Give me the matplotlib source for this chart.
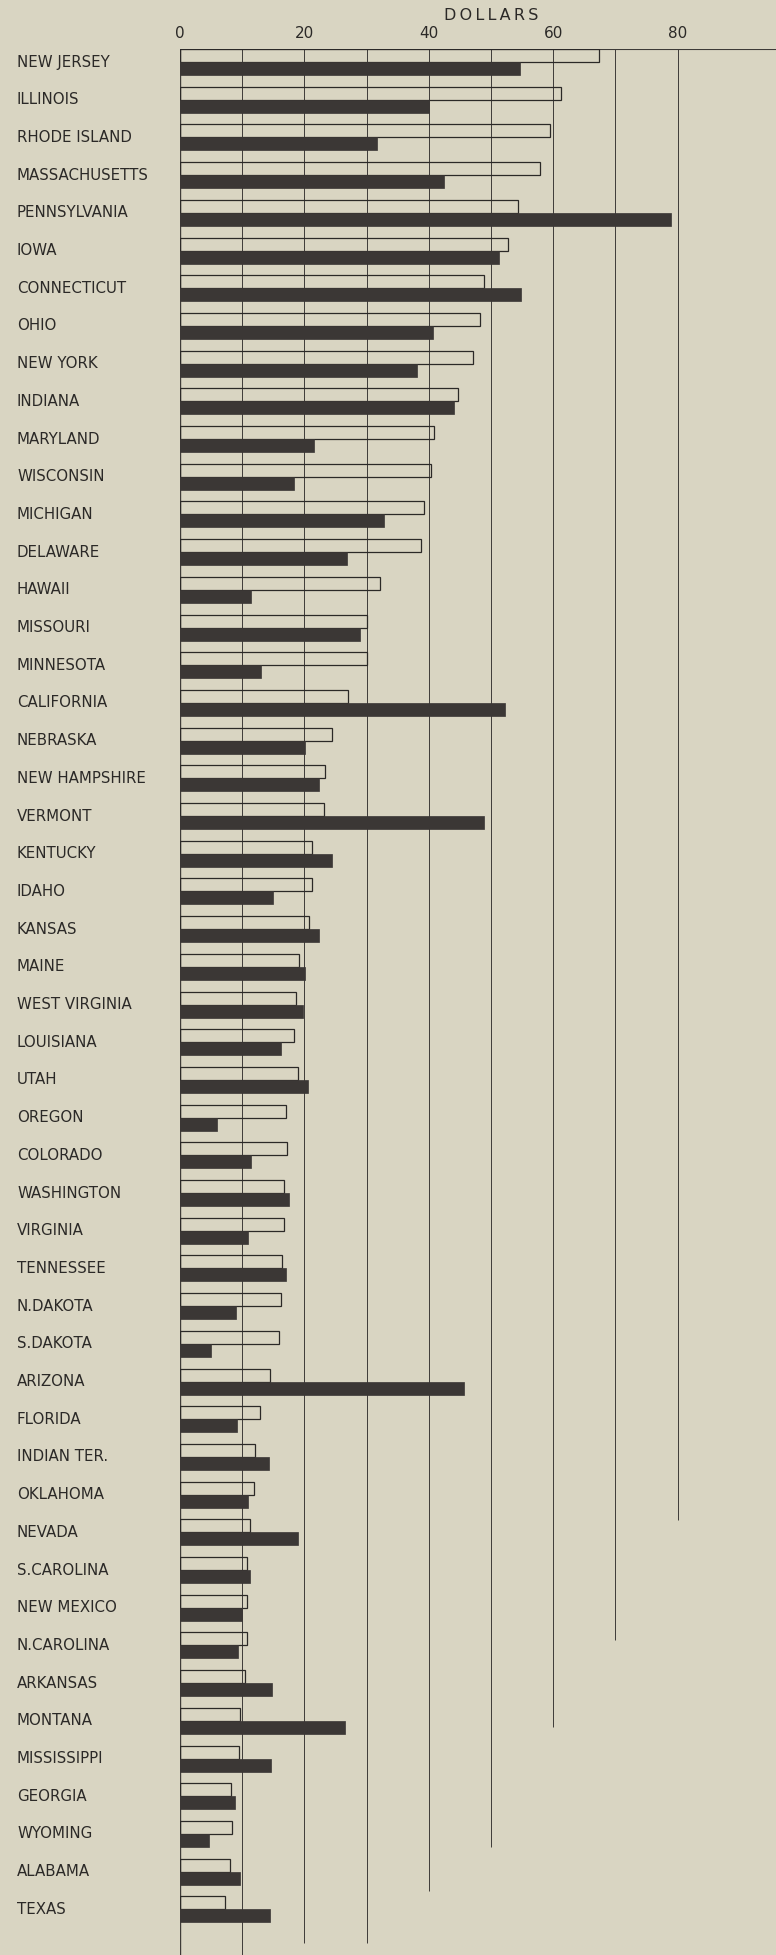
import matplotlib.pyplot as plt
from matplotlib.transforms import blended_transform_factory

STATES = [
    "NEW JERSEY", "ILLINOIS", "RHODE ISLAND", "MASSACHUSETTS", "PENNSYLVANIA",
    "IOWA", "CONNECTICUT", "OHIO", "NEW YORK", "INDIANA",
    "MARYLAND", "WISCONSIN", "MICHIGAN", "DELAWARE", "HAWAII",
    "MISSOURI", "MINNESOTA", "CALIFORNIA", "NEBRASKA", "NEW HAMPSHIRE",
    "VERMONT", "KENTUCKY", "IDAHO", "KANSAS", "MAINE",
    "WEST VIRGINIA", "LOUISIANA", "UTAH", "OREGON", "COLORADO",
    "WASHINGTON", "VIRGINIA", "TENNESSEE", "N.DAKOTA", "S.DAKOTA",
    "ARIZONA", "FLORIDA", "INDIAN TER.", "OKLAHOMA", "NEVADA",
    "S.CAROLINA", "NEW MEXICO", "N.CAROLINA", "ARKANSAS", "MONTANA",
    "MISSISSIPPI", "GEORGIA", "WYOMING", "ALABAMA", "TEXAS",
]
# open (outlined) bars
OPEN_VALUES = [
    67.4, 61.2, 59.5, 57.9, 54.3,
    52.7, 48.8, 48.2, 47.1, 44.7,
    40.8, 40.4, 39.3, 38.8, 32.1,
    30.1, 30.1, 27.0, 24.4, 23.3,
    23.1, 21.2, 21.2, 20.8, 19.1,
    18.7, 18.4, 18.9, 17.1, 17.2,
    16.7, 16.7, 16.4, 16.3, 15.9,
    14.4, 12.9, 12.1, 11.9, 11.2,
    10.7, 10.7, 10.8, 10.4, 9.6,
    9.5, 8.2, 8.3, 8.1, 7.3,
]
# solid (black) bars
SOLID_VALUES = [
    54.6, 40.0, 31.6, 42.4, 78.9,
    51.2, 54.8, 40.7, 38.1, 44.1,
    21.5, 18.4, 32.8, 26.9, 11.4,
    29.0, 13.1, 52.3, 20.1, 22.4,
    48.9, 24.4, 15.0, 22.4, 20.1,
    19.8, 16.2, 20.6, 6.0, 11.4,
    17.6, 10.9, 17.0, 9.0, 5.0,
    45.6, 9.1, 14.3, 11.0, 18.9,
    11.3, 10.0, 9.4, 14.8, 26.5,
    14.6, 8.8, 4.6, 9.6, 14.4,
]
TICKS = [0, 20, 40, 60, 80]
GRID_X = [0, 10, 20, 30, 40, 50, 60, 70, 80]

BG = "#d9d5c2"
INK = "#2b2927"
GRID = "#3e3b38"
BAR_DARK = "#3b3735"
BAR_H = 0.345

# gridlines stop at staggered depths (row units)
Y_BOTTOM = 50.21
GRID_END = {0: Y_BOTTOM, 10: Y_BOTTOM, 20: 49.9, 30: 49.9, 40: 48.5,
            50: 47.35, 60: 44.16, 70: 41.86, 80: 38.67}

fig = plt.figure(figsize=(7.76, 19.55), dpi=100, facecolor=BG)
ax = fig.add_axes([180 / 776, 0, 596 / 776, 1906 / 1955])
ax.set_facecolor(BG)

rows = list(range(len(STATES)))
for x in GRID_X:
    lw = 1.0 if x == 0 else 0.7
    ax.vlines(x, -BAR_H, GRID_END[x], color=GRID, linewidth=lw, zorder=1)
ax.axhline(-BAR_H, color=GRID, linewidth=0.8, zorder=1)

ax.barh([r - BAR_H / 2 for r in rows], OPEN_VALUES, height=BAR_H,
        facecolor="none", edgecolor=INK, linewidth=0.9, zorder=2)
ax.barh([r + BAR_H / 2 for r in rows], SOLID_VALUES, height=BAR_H,
        color=BAR_DARK, edgecolor=BAR_DARK, linewidth=0.5, zorder=3)

ax.set_xlim(0, 95.8)
ax.set_ylim(Y_BOTTOM, -BAR_H)
ax.xaxis.tick_top()
ax.set_xticks(TICKS)
ax.set_xticklabels([str(t) for t in TICKS], fontsize=11, color=INK)
ax.tick_params(axis="x", length=0, pad=6)
ax.set_yticks([])
for s in ax.spines.values():
    s.set_visible(False)

trans = blended_transform_factory(fig.transFigure, ax.transData)
for r, name in zip(rows, STATES):
    ax.text(17 / 776, r, name, transform=trans, ha="left", va="center",
            fontsize=10.8, color=INK)

fig.text((180 + 50 * 6.22) / 776, 1 - 16 / 1955, "D O L L A R S".replace(" ", "\u2009"),
         ha="center", va="center", fontsize=11.5, color=INK)

fig.savefig("out.png", dpi=100, facecolor=BG)
